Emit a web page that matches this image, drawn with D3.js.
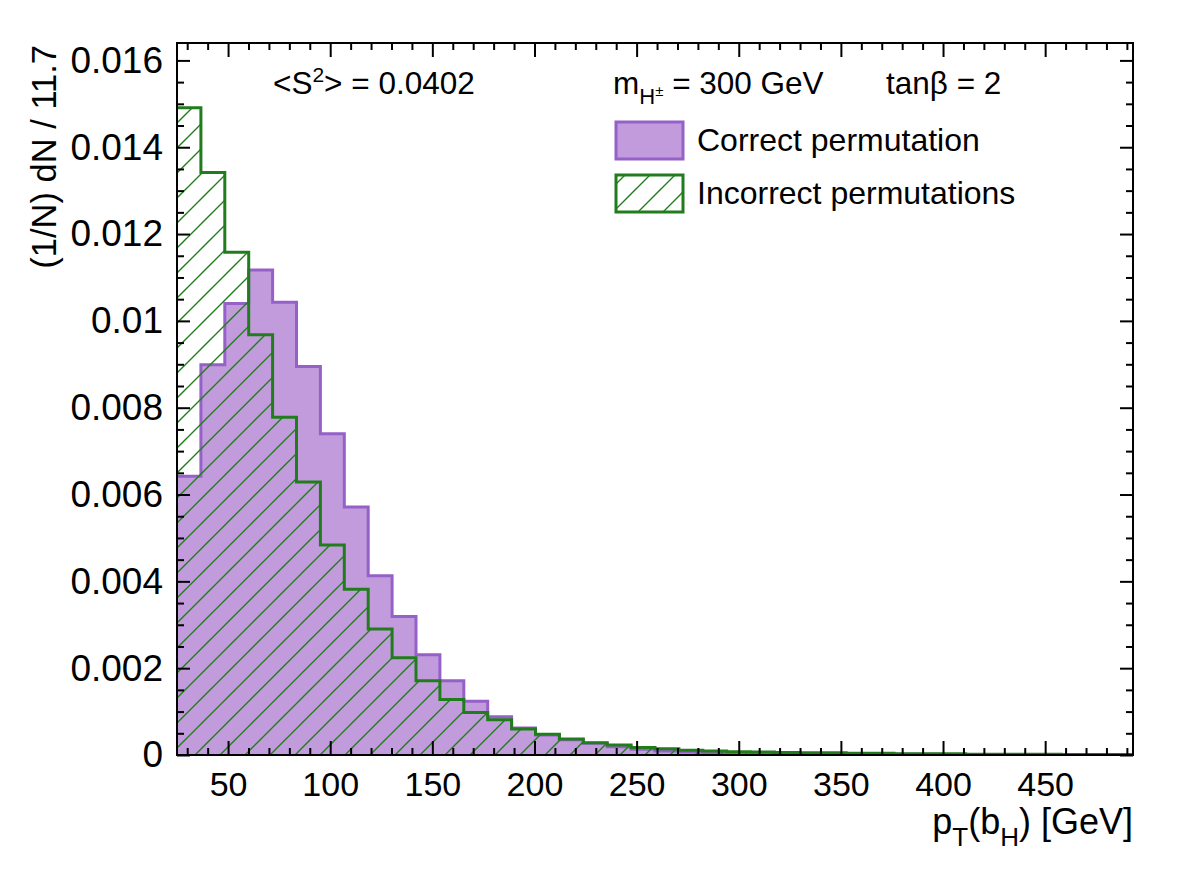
<!DOCTYPE html>
<html>
<head>
<meta charset="utf-8">
<script src="https://cdn.jsdelivr.net/npm/d3@7"></script>
<style>
  html, body { margin: 0; padding: 0; background: #fff; }
  svg text { font-family: "Liberation Sans", Arial, Helvetica, sans-serif; fill: #000; }
</style>
</head>
<body>
<svg id="chart" width="1182" height="880"></svg>
<script>
// ---------------- data ----------------
const xMin = 25;
const binWidth = 11.7;
// (1/N) dN / 11.7 for the correct b_H assignment (purple, filled)
const correctPerm = [
  0.00642, 0.00899, 0.01040, 0.01117, 0.01043, 0.00895, 0.00740, 0.00571,
  0.00413, 0.00319, 0.00231, 0.00171, 0.00124, 0.00088, 0.00062, 0.00046,
  0.00035, 0.00027, 0.00019, 0.00013, 0.00009, 0.00007, 0.00006, 0.00005,
  0.00004, 0.00004, 0.00003, 0.00003, 0.00002, 0.00002, 0.00002, 0.00002,
  0.00001, 0.00001, 0.00001, 0.00001, 0.00001, 0.00001, 0.00001, 0.00001
];
// incorrect permutations (green, hatched)
const incorrectPerm = [
  0.01491, 0.01342, 0.01158, 0.00968, 0.00778, 0.00629, 0.00484, 0.00382,
  0.00290, 0.00224, 0.00171, 0.00128, 0.00098, 0.00081, 0.00060, 0.00048,
  0.00037, 0.00028, 0.00023, 0.00017, 0.000145, 0.00011, 0.00009, 0.000077,
  0.00007, 0.00006, 0.00005, 0.00005, 0.00004, 0.00004, 0.00003, 0.00003,
  0.00003, 0.00002, 0.00002, 0.00002, 0.00002, 0.00001, 0.00001, 0.00001
];
const xTickValues = [50, 100, 150, 200, 250, 300, 350, 400, 450];
const yTickValues = [0, 0.002, 0.004, 0.006, 0.008, 0.01, 0.012, 0.014, 0.016];
const yTickLabels = ["0", "0.002", "0.004", "0.006", "0.008", "0.01", "0.012", "0.014", "0.016"];
const legendLabels = ["Correct permutation", "Incorrect permutations"];

// ---------------- layout ----------------
const svg = d3.select("#chart");
const L = 177, R = 1133, T = 43, B = 755;
const nBins = correctPerm.length;
const xMax = xMin + nBins * binWidth;
const yMax = 1.1 * d3.max(incorrectPerm);

const x = d3.scaleLinear().domain([xMin, xMax]).range([L, R]);
const y = d3.scaleLinear().domain([0, yMax]).range([B, T]);

const purpleFill = "#c29bdd";
const purpleLine = "#9561c8";
const green = "#217d1c";

const defs = svg.append("defs");
const hp = defs.append("pattern")
  .attr("id", "hatch").attr("patternUnits", "userSpaceOnUse")
  .attr("width", 25).attr("height", 25);
hp.append("path")
  .attr("d", "M-5,5 L5,-5 M0,25 L25,0 M20,30 L30,20")
  .attr("stroke", green).attr("stroke-width", 1.4).attr("fill", "none");
defs.append("clipPath").attr("id", "clip")
  .append("rect").attr("x", L).attr("y", T).attr("width", R - L).attr("height", B - T);

function stepPoints(vals) {
  const pts = vals.map((v, i) => [xMin + i * binWidth, v]);
  pts.push([xMin + vals.length * binWidth, vals[vals.length - 1]]);
  return pts;
}
const area = d3.area().curve(d3.curveStepAfter)
  .x(d => x(d[0])).y0(y(0)).y1(d => y(d[1]));
const line = d3.line().curve(d3.curveStepAfter)
  .x(d => x(d[0])).y(d => y(d[1]));

const plot = svg.append("g").attr("clip-path", "url(#clip)");
const cp = stepPoints(correctPerm);
const ip = stepPoints(incorrectPerm);
plot.append("path").attr("d", area(cp)).attr("fill", purpleFill);
plot.append("path").attr("d", line(cp)).attr("fill", "none")
  .attr("stroke", purpleLine).attr("stroke-width", 3);
plot.append("path").attr("d", area(ip)).attr("fill", "url(#hatch)");
plot.append("path").attr("d", line(ip)).attr("fill", "none")
  .attr("stroke", green).attr("stroke-width", 3);

// ---------------- axes ----------------
const xMinor = d3.range(30, 491, 10).filter(v => v % 50 !== 0);
const yMinor = d3.range(0, yMax + 1e-9, 0.0005).filter(v => Math.abs(v / 0.002 - Math.round(v / 0.002)) > 1e-6);

function styleAxis(size) {
  return g => {
    g.select(".domain").remove();
    g.selectAll(".tick line").attr("stroke", "#000").attr("stroke-width", 2);
    g.selectAll(".tick text").attr("font-size", size).attr("fill", "#000")
      .attr("font-family", "Liberation Sans, Arial, sans-serif");
  };
}

// bottom
svg.append("g").attr("transform", `translate(0,${B})`)
  .call(d3.axisBottom(x).tickValues(xTickValues).tickSize(-14).tickPadding(17).tickFormat(d3.format("d")))
  .call(styleAxis(34));
svg.append("g").attr("transform", `translate(0,${B})`)
  .call(d3.axisBottom(x).tickValues(xMinor).tickSize(-7).tickFormat(""))
  .call(styleAxis(34));
// top
svg.append("g").attr("transform", `translate(0,${T})`)
  .call(d3.axisTop(x).tickValues(xTickValues).tickSize(-14).tickFormat(""))
  .call(styleAxis(34));
svg.append("g").attr("transform", `translate(0,${T})`)
  .call(d3.axisTop(x).tickValues(xMinor).tickSize(-7).tickFormat(""))
  .call(styleAxis(34));
// left
svg.append("g").attr("transform", `translate(${L},0)`)
  .call(d3.axisLeft(y).tickValues(yTickValues).tickSize(-13).tickPadding(14)
    .tickFormat((d, i) => yTickLabels[i]))
  .call(styleAxis(37));
svg.append("g").attr("transform", `translate(${L},0)`)
  .call(d3.axisLeft(y).tickValues(yMinor).tickSize(-7).tickFormat(""))
  .call(styleAxis(37));
// right
svg.append("g").attr("transform", `translate(${R},0)`)
  .call(d3.axisRight(y).tickValues(yTickValues).tickSize(-13).tickFormat(""))
  .call(styleAxis(34));
svg.append("g").attr("transform", `translate(${R},0)`)
  .call(d3.axisRight(y).tickValues(yMinor).tickSize(-7).tickFormat(""))
  .call(styleAxis(34));

// frame
svg.append("rect").attr("x", L).attr("y", T).attr("width", R - L).attr("height", B - T)
  .attr("fill", "none").attr("stroke", "#000").attr("stroke-width", 2);

// ---------------- axis titles ----------------
const xt = svg.append("text").attr("x", R).attr("y", 834)
  .attr("text-anchor", "end").attr("font-size", 36);
xt.append("tspan").text("p");
xt.append("tspan").attr("font-size", 26).attr("dy", 12).text("T");
xt.append("tspan").attr("dy", -12).text("(b");
xt.append("tspan").attr("font-size", 26).attr("dy", 12).text("H");
xt.append("tspan").attr("dy", -12).text(") [GeV]");

svg.append("text").attr("transform", "translate(56,45) rotate(-90)")
  .attr("text-anchor", "end").attr("font-size", 34.5)
  .text("(1/N) dN / 11.7");

// ---------------- annotations ----------------
const s2 = svg.append("text").attr("x", 273).attr("y", 94).attr("font-size", 31.5);
s2.append("tspan").text("<S");
s2.append("tspan").attr("font-size", 21).attr("dy", -12).text("2");
s2.append("tspan").attr("dy", 12).text("> = 0.0402");

const mh = svg.append("text").attr("x", 613).attr("y", 94).attr("font-size", 31.5);
mh.append("tspan").text("m");
mh.append("tspan").attr("font-size", 22).attr("dy", 10).text("H");
mh.append("tspan").attr("font-size", 15).attr("dy", -8).text("±");
mh.append("tspan").attr("dy", -2).text(" = 300 GeV");
svg.append("text").attr("x", 886).attr("y", 94).attr("font-size", 31.5).text("tanβ = 2");

// ---------------- legend ----------------
const lg = svg.append("g");
lg.append("rect").attr("x", 616).attr("y", 122).attr("width", 67).attr("height", 37)
  .attr("fill", purpleFill).attr("stroke", purpleLine).attr("stroke-width", 3);
lg.append("rect").attr("x", 616).attr("y", 175).attr("width", 67).attr("height", 37)
  .attr("fill", "url(#hatch)").attr("stroke", green).attr("stroke-width", 3);
lg.append("text").attr("x", 697).attr("y", 151).attr("font-size", 32).text(legendLabels[0]);
lg.append("text").attr("x", 697).attr("y", 204).attr("font-size", 32).text(legendLabels[1]);
</script>
</body>
</html>
